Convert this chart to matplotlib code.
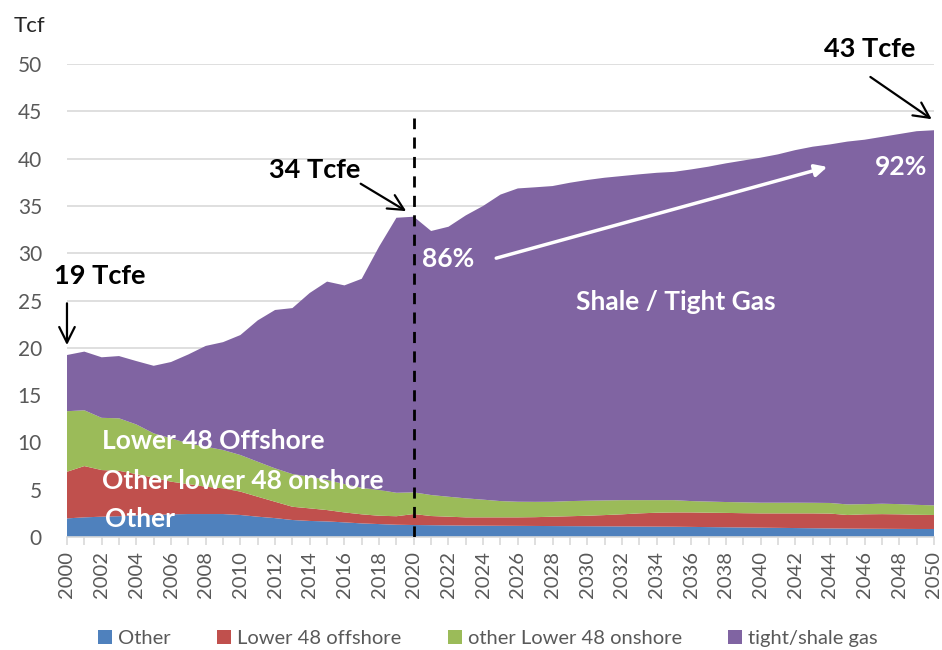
import numpy as np
import matplotlib
matplotlib.use("Agg")
import matplotlib.pyplot as plt
from matplotlib.patches import Patch

plt.rcParams['font.family'] = ['Lato', 'DejaVu Sans']

years = np.arange(2000, 2051)

other = [1.97, 2.08, 2.15, 2.20, 2.29, 2.33, 2.40, 2.43, 2.43, 2.43,
         2.33, 2.15, 2.00, 1.80, 1.70, 1.65, 1.55, 1.44, 1.37, 1.30,
         1.27, 1.25, 1.23, 1.21, 1.20, 1.19, 1.18, 1.17, 1.16, 1.15,
         1.14, 1.13, 1.12, 1.11, 1.10, 1.09, 1.07, 1.05, 1.03, 1.01,
         0.99, 0.97, 0.95, 0.93, 0.91, 0.89, 0.88, 0.87, 0.86, 0.85, 0.85]

offshore = [4.93, 5.42, 4.93, 4.80, 4.37, 3.94, 3.45, 3.17, 2.89, 2.72,
            2.47, 2.11, 1.73, 1.40, 1.33, 1.20, 1.05, 0.96, 0.88, 0.90,
            1.16, 0.97, 0.92, 0.87, 0.88, 0.89, 0.90, 0.93, 0.99, 1.05,
            1.11, 1.19, 1.28, 1.39, 1.47, 1.51, 1.53, 1.52, 1.52, 1.51,
            1.51, 1.53, 1.55, 1.57, 1.57, 1.44, 1.52, 1.55, 1.54, 1.50, 1.48]

onshore = [6.40, 5.90, 5.52, 5.55, 5.24, 4.69, 4.58, 4.30, 4.23, 4.05,
           3.87, 3.70, 3.53, 3.46, 3.35, 3.18, 3.00, 2.80, 2.72, 2.48,
           2.29, 2.22, 2.11, 2.01, 1.87, 1.72, 1.65, 1.62, 1.58, 1.60,
           1.59, 1.55, 1.50, 1.40, 1.33, 1.30, 1.20, 1.18, 1.15, 1.15,
           1.13, 1.13, 1.13, 1.12, 1.12, 1.12, 1.08, 1.10, 1.08, 1.05, 1.02]

shale = [5.94, 6.20, 6.40, 6.58, 6.70, 7.14, 8.07, 9.40, 10.65, 11.40,
         12.68, 14.94, 16.74, 17.54, 19.42, 20.97, 21.00, 22.10, 25.73, 29.07,
         29.14, 27.91, 28.54, 29.91, 31.05, 32.40, 33.12, 33.25, 33.37, 33.65,
         33.90, 34.11, 34.26, 34.44, 34.60, 34.70, 35.06, 35.40, 35.80, 36.13,
         36.47, 36.82, 37.27, 37.64, 37.90, 38.35, 38.52, 38.78, 39.12, 39.50, 39.65]

series_labels = ["Other", "Lower 48 offshore", "other Lower 48 onshore", "tight/shale gas"]
colors = ["#4F81BD", "#C0504D", "#9BBB59", "#8064A2"]

fig = plt.figure(figsize=(9.42, 6.5), dpi=100)
ax = fig.add_axes([0.0711, 0.1738, 0.9204, 0.7277])

ax.stackplot(years, other, offshore, onshore, shale, colors=colors,
             labels=series_labels, linewidth=0, zorder=2)

ax.set_xlim(2000, 2050)
ax.set_ylim(0, 50)
ax.set_yticks(range(0, 51, 5))
ax.set_xticks(range(2000, 2051, 2))
ax.set_xticks(range(2000, 2051, 1), minor=True)
ax.set_xticklabels([str(y) for y in range(2000, 2051, 2)], rotation=90)
ax.yaxis.grid(True, color="#D9D9D9", linewidth=1.2, zorder=0)
ax.set_axisbelow(True)
for s in ["top", "right", "left"]:
    ax.spines[s].set_visible(False)
ax.spines["bottom"].set_color("#D9D9D9")
ax.spines["bottom"].set_linewidth(1.2)
ax.tick_params(axis="y", length=0, pad=18, labelsize=15, labelcolor="#595959")
ax.tick_params(axis="x", which="both", direction="out", length=6, color="#D9D9D9",
               width=1.2, labelsize=14.5, labelcolor="#595959", pad=4)
ax.tick_params(axis="x", which="minor", length=6)

ax.text(-0.062, 1.08, "Tcf", transform=ax.transAxes, fontsize=16, color="#262626",
        ha="left", va="center")

# forecast divider
ax.plot([2020, 2020], [0, 44.3], linestyle=(0, (4, 3)), color="black", linewidth=2, zorder=4)

bold = dict(fontsize=19.5, fontweight="bold", color="black")
arrow = dict(arrowstyle="->", color="black", lw=1.6, mutation_scale=28)

ax.annotate("", xy=(2000, 20.0), xytext=(2000, 25.0), arrowprops=arrow,
            annotation_clip=False)
ax.text(2001.9, 27.6, "19 Tcfe", ha="center", va="center", **bold)

ax.annotate("", xy=(2019.7, 34.3), xytext=(2016.8, 37.5), arrowprops=arrow)
ax.text(2014.3, 38.8, "34 Tcfe", ha="center", va="center", **bold)

ax.annotate("", xy=(2050, 44.0), xytext=(2046.2, 48.8), arrowprops=arrow,
            annotation_clip=False)
ax.text(2046.3, 51.6, "43 Tcfe", ha="center", va="center", clip_on=False, **bold)

white = dict(fontsize=19, fontweight="bold", color="white", zorder=5)
ax.text(2022.0, 29.4, "86%", ha="center", va="center", **white)
ax.text(2048.1, 39.1, "92%", ha="center", va="center", **white)
ax.annotate("", xy=(2044.0, 39.2), xytext=(2024.6, 29.4),
            arrowprops=dict(arrowstyle="-|>", color="white", lw=2.5, mutation_scale=18),
            zorder=5)

ax.text(2035.1, 24.8, "Shale / Tight Gas", ha="center", va="center", **white)
ax.text(2002.0, 10.2, "Lower 48 Offshore", ha="left", va="center", **white)
ax.text(2002.0, 5.9, "Other lower 48 onshore", ha="left", va="center", **white)
ax.text(2002.2, 1.9, "Other", ha="left", va="center", **white)

handles = [Patch(facecolor=c, edgecolor="none") for c in colors]
fig.legend(handles, series_labels, loc="center", bbox_to_anchor=(0.518, 0.018),
           ncol=4, frameon=False, fontsize=14.5, labelcolor="#595959",
           handlelength=0.7, handleheight=0.7, handletextpad=0.3, columnspacing=2.3)

fig.savefig("out.png", dpi=100)
